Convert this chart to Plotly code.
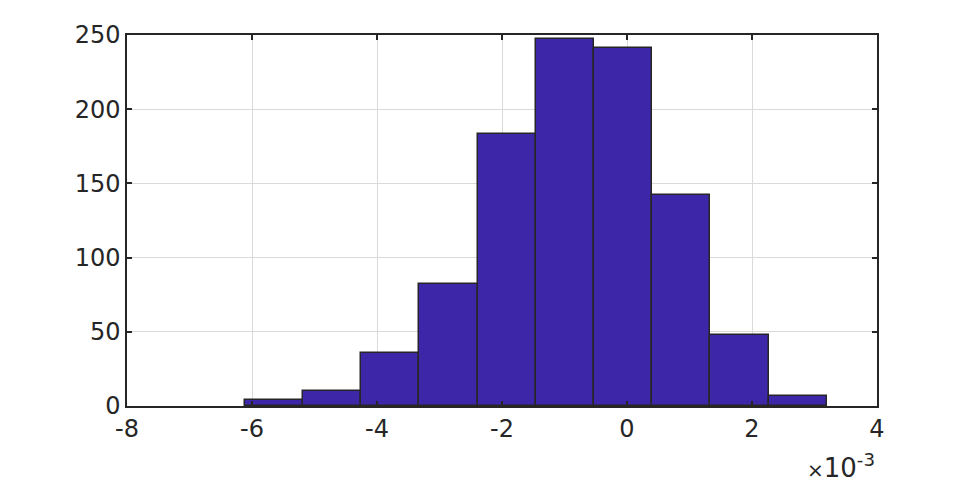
import plotly.graph_objects as go

# histogram (x in units of 1e-3)
bin_edges = [-6.114, -5.183, -4.252, -3.321, -2.390, -1.459, -0.528, 0.403, 1.334, 2.265, 3.196]
counts = [4, 10, 36, 82, 183, 247, 241, 142, 48, 7]
x_ticks = [-8, -6, -4, -2, 0, 2, 4]
y_ticks = [0, 50, 100, 150, 200, 250]

centers = [(a + b) / 2 for a, b in zip(bin_edges[:-1], bin_edges[1:])]
widths = [b - a for a, b in zip(bin_edges[:-1], bin_edges[1:])]

axis_col = "#262626"
fig = go.Figure()
fig.add_trace(go.Bar(
    x=centers, y=counts, width=widths,
    marker=dict(color="#3e26a8", line=dict(color=axis_col, width=1.5)),
))

font = dict(family="DejaVu Sans, sans-serif", size=24, color=axis_col)
fig.update_layout(
    width=969, height=485,
    margin=dict(l=119, r=100, t=27, b=87),
    plot_bgcolor="white", paper_bgcolor="white",
    showlegend=False, bargap=0,
    font=font,
)
fig.update_xaxes(
    range=[-8, 4], tickvals=x_ticks, ticktext=[str(v) for v in x_ticks],
    showgrid=True, gridcolor="#dadada", gridwidth=1,
    showline=True, linecolor=axis_col, linewidth=1.5, mirror="ticks",
    ticks="inside", ticklen=5, tickcolor=axis_col, tickwidth=1.5,
    zeroline=False, tickfont=font,
)
fig.update_yaxes(
    range=[0, 250], tickvals=y_ticks,
    showgrid=True, gridcolor="#dadada", gridwidth=1,
    showline=True, linecolor=axis_col, linewidth=1.5, mirror="ticks",
    ticks="inside", ticklen=5, tickcolor=axis_col, tickwidth=1.5,
    zeroline=False, tickfont=font,
)
fig.add_annotation(
    text="<span style='font-size:20px'>×</span>10<sup>-3</sup>", xref="paper", yref="paper",
    x=1.0, y=-0.11, xanchor="right", yanchor="top",
    showarrow=False, font=dict(family="DejaVu Sans, sans-serif", size=26, color=axis_col),
)
fig.write_html("out.html")
